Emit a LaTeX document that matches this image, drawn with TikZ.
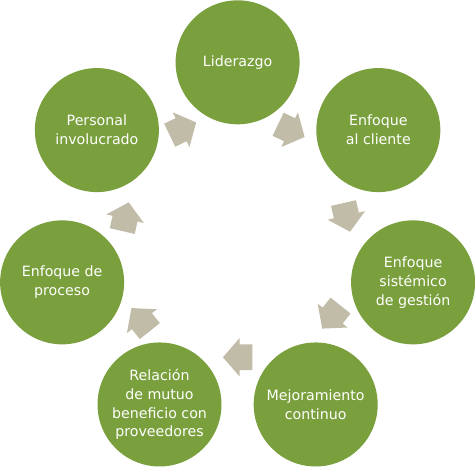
\documentclass[tikz,border=0pt]{standalone}
\usepackage{fontspec}
\setmainfont{DejaVu Sans}
\usetikzlibrary{calc}
\definecolor{olivo}{RGB}{122,160,61}
\definecolor{arena}{RGB}{192,188,168}
\tikzset{
  princ/.style={circle,fill=olivo,draw=none,minimum size=124pt,inner sep=0pt,align=center,text=white,font=\fontsize{14.2}{18.8}\selectfont},
  flecha/.style={fill=arena,draw=none}
}

\begin{document}
\begin{tikzpicture}[x=1pt,y=1pt]
  \useasboundingbox (-237.6,-224.7) rectangle (237.4,242.3);
  \coordinate (o) at (0,0);
  \node[princ] (n0) at (90:180) {Liderazgo};
  \node[princ] (n1) at (90-360/7:180) {Enfoque\\al cliente};
  \node[princ] (n2) at (90-2*360/7:180) {Enfoque\\sistémico\\de gestión};
  \node[princ] (n3) at (90-3*360/7:180) {Mejoramiento\\continuo};
  \node[princ] (n4) at (90-4*360/7:180) {Relación\\de mutuo\\beneficio con\\proveedores};
  \node[princ] (n5) at (90-5*360/7:180) {Enfoque de\\proceso};
  \node[princ] (n6) at (90-6*360/7:180) {Personal\\involucrado};
  % flechas entre circulos
  \foreach \a/\b/\r in {0/1/124,1/2/112,2/3/120,3/4/115,4/5/124,5/6/115,6/0/126} {
    \pgfmathsetmacro\k{\r/162.2}
    \pgfmathsetmacro\g{-(\a+0.5)*360/7}
    \coordinate (f\a) at ($(o)!\k!($(n\a)!0.5!(n\b)$)$);
    \fill[flecha,shift={(f\a)},rotate=\g] (-14.7,-12.8) -- (-2,-12.8) -- (-2,-19.2) -- (14.7,0)
      -- (-2,19.2) -- (-2,12.8) -- (-14.7,12.8) -- cycle;
  }
\end{tikzpicture}
\end{document}
